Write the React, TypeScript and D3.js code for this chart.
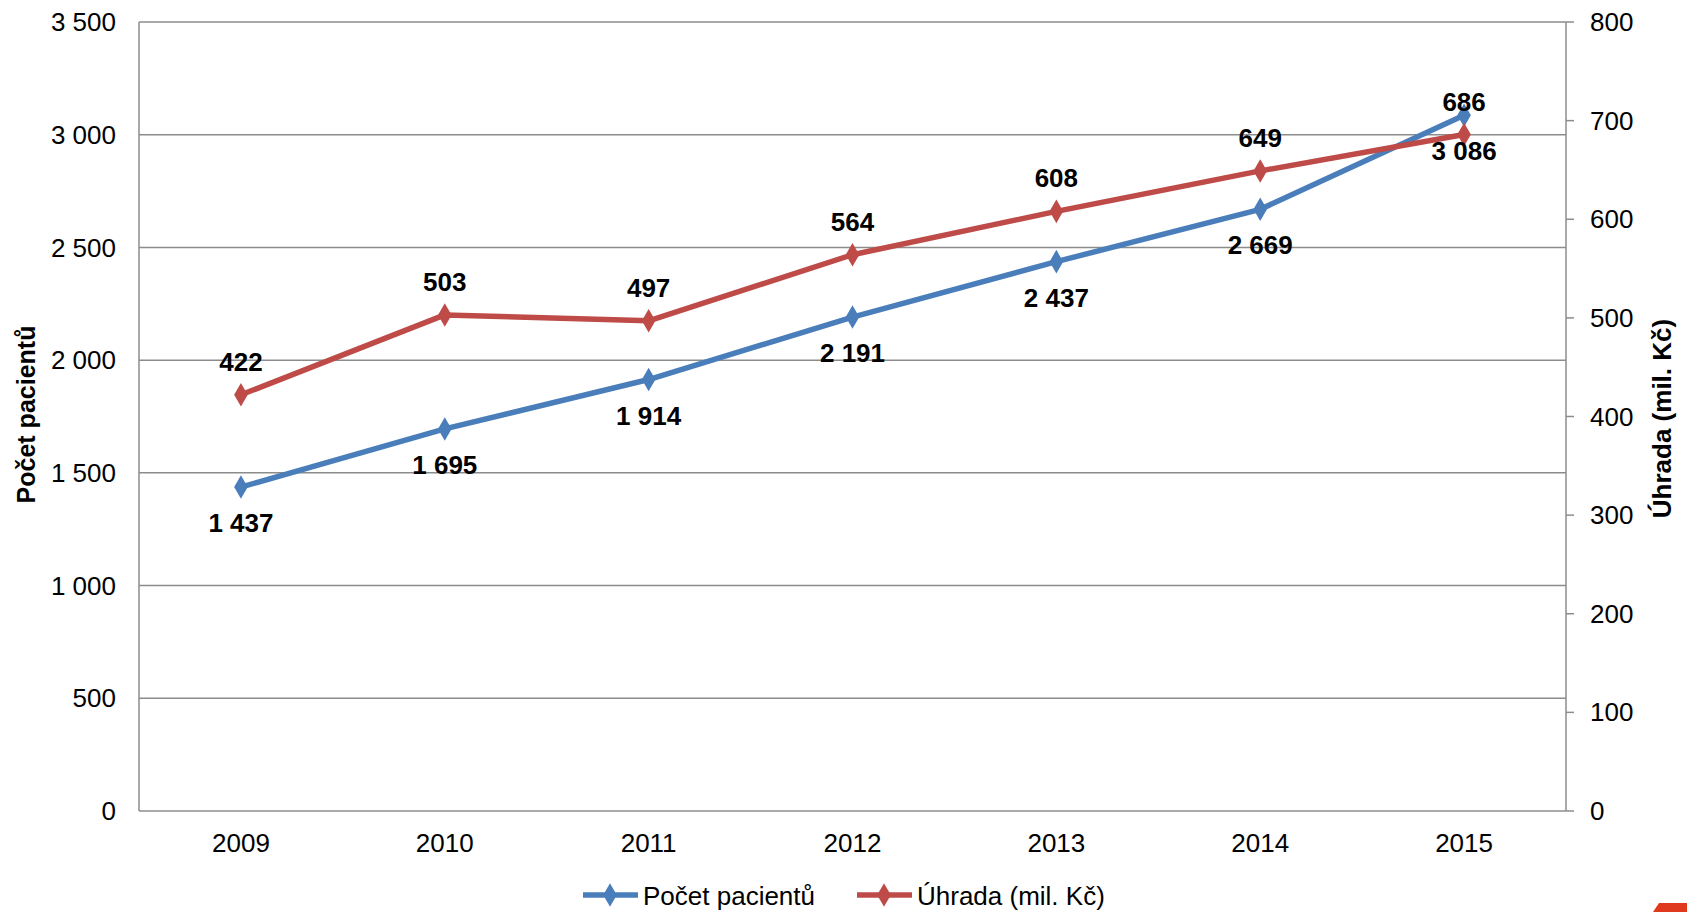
import { useEffect, useRef } from 'react';
import * as d3 from 'd3';

const years = ['2009', '2010', '2011', '2012', '2013', '2014', '2015'];
const patients = [1437, 1695, 1914, 2191, 2437, 2669, 3086];
const payment = [422, 503, 497, 564, 608, 649, 686];
const leftTicks = [0, 500, 1000, 1500, 2000, 2500, 3000, 3500];
const rightTicks = [0, 100, 200, 300, 400, 500, 600, 700, 800];

const BLUE = '#4a7ebb';
const RED = '#be4b48';
const GRID = '#8c8c8c';
const FONT = '"Liberation Sans", Arial, sans-serif';

const fmt = (v: number) => d3.format(',')(v).replace(/,/g, ' ');

export default function App() {
    const ref = useRef<SVGSVGElement>(null);

    useEffect(() => {
        if (!ref.current) return;
        const svg = d3.select(ref.current);
        svg.selectAll('*').remove();

        const left = 139, right = 1566, top = 22, bottom = 811;

        const x = d3.scaleBand<string>().domain(years).range([left, right]);
        const yL = d3.scaleLinear().domain([0, 3500]).range([bottom, top]);
        const yR = d3.scaleLinear().domain([0, 800]).range([bottom, top]);
        const cx = (d: string) => (x(d) as number) + x.bandwidth() / 2;

        svg.append('rect').attr('width', 1687).attr('height', 912).attr('fill', '#fff');

        // gridlines
        svg.append('g')
            .selectAll('line')
            .data(leftTicks)
            .enter()
            .append('line')
            .attr('x1', left)
            .attr('x2', right)
            .attr('y1', d => yL(d))
            .attr('y2', d => yL(d))
            .attr('stroke', GRID)
            .attr('stroke-width', 1.5);

        // axes lines
        svg.append('line').attr('x1', left).attr('x2', left).attr('y1', top).attr('y2', bottom)
            .attr('stroke', GRID).attr('stroke-width', 1.5);
        svg.append('line').attr('x1', right).attr('x2', right).attr('y1', top).attr('y2', bottom)
            .attr('stroke', GRID).attr('stroke-width', 1.5);

        // left tick labels
        svg.append('g')
            .selectAll('text')
            .data(leftTicks)
            .enter()
            .append('text')
            .attr('x', 116)
            .attr('y', d => yL(d))
            .attr('dy', '0.35em')
            .attr('text-anchor', 'end')
            .attr('font-family', FONT)
            .attr('font-size', 26)
            .text(d => fmt(d));

        // right ticks + labels
        const rg = svg.append('g');
        rg.selectAll('line')
            .data(rightTicks)
            .enter()
            .append('line')
            .attr('x1', right)
            .attr('x2', right + 8)
            .attr('y1', d => yR(d))
            .attr('y2', d => yR(d))
            .attr('stroke', GRID)
            .attr('stroke-width', 1.5);
        rg.selectAll('text')
            .data(rightTicks)
            .enter()
            .append('text')
            .attr('x', 1590)
            .attr('y', d => yR(d))
            .attr('dy', '0.35em')
            .attr('font-family', FONT)
            .attr('font-size', 26)
            .text(d => fmt(d));

        // x labels
        svg.append('g')
            .selectAll('text')
            .data(years)
            .enter()
            .append('text')
            .attr('x', d => cx(d))
            .attr('y', 843)
            .attr('dy', '0.35em')
            .attr('text-anchor', 'middle')
            .attr('font-family', FONT)
            .attr('font-size', 26)
            .text(d => d);

        // axis titles
        svg.append('text')
            .attr('transform', `translate(26, ${(top + bottom) / 2 - 2}) rotate(-90)`)
            .attr('text-anchor', 'middle')
            .attr('dy', '0.35em')
            .attr('font-family', FONT)
            .attr('font-size', 25)
            .attr('font-weight', 'bold')
            .text('Počet pacientů');
        svg.append('text')
            .attr('transform', `translate(1662, ${(top + bottom) / 2 + 2}) rotate(-90)`)
            .attr('text-anchor', 'middle')
            .attr('dy', '0.35em')
            .attr('font-family', FONT)
            .attr('font-size', 26)
            .attr('font-weight', 'bold')
            .text('Úhrada (mil. Kč)');

        const diamond = d3.symbol().type(d3.symbolDiamond).size(160);

        const series = [
            { values: patients, scale: yL, color: BLUE, offset: 36 },
            { values: payment, scale: yR, color: RED, offset: -33 },
        ];

        series.forEach(s => {
            const line = d3.line<number>()
                .x((_, i) => cx(years[i]))
                .y(d => s.scale(d));
            svg.append('path')
                .datum(s.values)
                .attr('d', line)
                .attr('fill', 'none')
                .attr('stroke', s.color)
                .attr('stroke-width', 5.5)
                .attr('stroke-linejoin', 'round');
            svg.append('g')
                .selectAll('path')
                .data(s.values)
                .enter()
                .append('path')
                .attr('d', diamond)
                .attr('transform', (d, i) => `translate(${cx(years[i])}, ${s.scale(d)})`)
                .attr('fill', s.color);
        });

        series.forEach(s => {
            svg.append('g')
                .selectAll('text')
                .data(s.values)
                .enter()
                .append('text')
                .attr('x', (_, i) => cx(years[i]))
                .attr('y', d => s.scale(d) + s.offset)
                .attr('dy', '0.35em')
                .attr('text-anchor', 'middle')
                .attr('font-family', FONT)
                .attr('font-size', 26)
                .attr('font-weight', 'bold')
                .text(d => fmt(d));
        });

        // legend
        const legend = [
            { label: 'Počet pacientů', color: BLUE, x: 583 },
            { label: 'Úhrada (mil. Kč)', color: RED, x: 857 },
        ];
        const lg = svg.append('g');
        legend.forEach(l => {
            lg.append('line')
                .attr('x1', l.x).attr('x2', l.x + 55)
                .attr('y1', 895).attr('y2', 895)
                .attr('stroke', l.color).attr('stroke-width', 5.5);
            lg.append('path')
                .attr('d', diamond)
                .attr('transform', `translate(${l.x + 27}, 895)`)
                .attr('fill', l.color);
            lg.append('text')
                .attr('x', l.x + 60)
                .attr('y', 905)
                .attr('font-family', FONT)
                .attr('font-size', 26)
                .text(l.label);
        });

        // corner mark
        svg.append('polygon')
            .attr('points', '1659,903 1687,903 1687,912 1653,912')
            .attr('fill', '#e03a1e');
    }, []);

    return (
        <svg
            ref={ref}
            width={1687}
            height={912}
            style={{ position: 'absolute', left: 0, top: 0, display: 'block' }}
        />
    );
}
